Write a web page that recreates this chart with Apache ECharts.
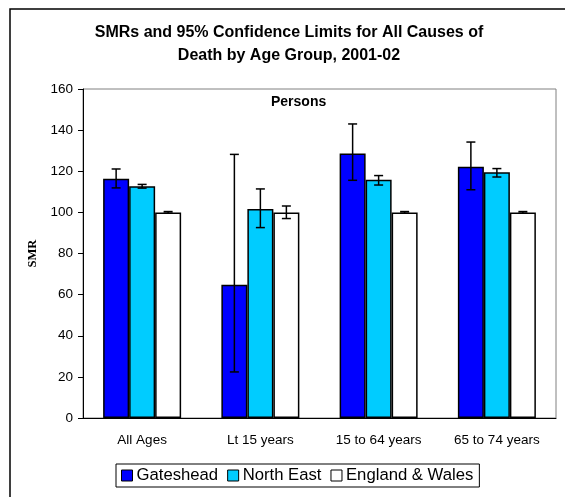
<!DOCTYPE html>
<html>
<head>
<meta charset="utf-8">
<script src="https://cdn.jsdelivr.net/npm/echarts@6/dist/echarts.min.js"></script>
<style>
  html, body { margin: 0; padding: 0; background: #fff; }
  #chart { width: 565px; height: 497px; }
</style>
</head>
<body>
<div id="chart"></div>
<script>
// age groups on the x axis
const categories = ['All Ages', 'Lt 15 years', '15 to 64 years', '65 to 74 years']
const seriesNames = ['Gateshead', 'North East', 'England & Wales']
const colors = ['#0000ff', '#00ccff', '#ffffff']

// SMR values
const gateshead = [116.4, 64.8, 128.6, 122.2]
const northEast = [112.7, 101.7, 115.9, 119.5]
const englandWales = [100, 100, 100, 100]

// 95% confidence limits [lower, upper]
const gatesheadCI = [[111.9, 121.1], [22.4, 128.2], [115.6, 143.0], [111.0, 134.2]]
const northEastCI = [[111.8, 113.6], [92.6, 111.4], [113.3, 117.9], [117.2, 121.3]]
const englandWalesCI = [[99.6, 100.4], [97.0, 103.1], [99.6, 100.4], [99.6, 100.4]]

const yTicks = [0, 20, 40, 60, 80, 100, 120, 140, 160]

const values = [gateshead, northEast, englandWales]
const limits = [gatesheadCI, northEastCI, englandWalesCI]
const BAR_W = 26

const chart = echarts.init(document.getElementById('chart'))

const barSeries = seriesNames.map((name, i) => ({
  name, type: 'bar', data: values[i],
  barWidth: BAR_W, barGap: '0%',
  itemStyle: { color: colors[i], borderColor: '#000', borderWidth: 1.5 },
  emphasis: { disabled: true },
  animation: false
}))

// error bars drawn over each bar
const errSeries = seriesNames.map((name, i) => ({
  type: 'custom', z: 10, animation: false, silent: true,
  data: limits[i].map((l, c) => [c, l[0], l[1]]),
  renderItem: (params, api) => {
    const c = api.value(0)
    const lo = api.coord([c, api.value(1)])
    const hi = api.coord([c, api.value(2)])
    const x = lo[0] + (i - 1) * BAR_W
    const cap = 4.5
    const st = { stroke: '#000', lineWidth: 1.5 }
    return {
      type: 'group',
      children: [
        { type: 'line', shape: { x1: x, y1: lo[1], x2: x, y2: hi[1] }, style: st },
        { type: 'line', shape: { x1: x - cap, y1: lo[1], x2: x + cap, y2: lo[1] }, style: st },
        { type: 'line', shape: { x1: x - cap, y1: hi[1], x2: x + cap, y2: hi[1] }, style: st }
      ]
    }
  }
}))

chart.setOption({
  backgroundColor: '#fff',
  animation: false,
  title: {
    text: 'SMRs and 95% Confidence Limits for All Causes of\nDeath by Age Group, 2001-02',
    left: 284, top: 16, textAlign: 'center',
    textStyle: { fontFamily: 'Liberation Sans, Arial', fontSize: 16, fontWeight: 'bold', color: '#000', lineHeight: 23 }
  },
  grid: { left: 83, top: 89, width: 473, height: 329, show: true, borderColor: '#808080', borderWidth: 1, backgroundColor: 'transparent' },
  legend: {
    data: seriesNames,
    left: 116, top: 464, width: 364, height: 26,
    padding: [3, 6, 3, 5], itemGap: 9,
    borderColor: '#000', borderWidth: 1,
    itemWidth: 11, itemHeight: 11, icon: 'rect',
    itemStyle: { borderColor: '#000', borderWidth: 1 },
    textStyle: { fontFamily: 'Liberation Sans, Arial', fontSize: 16.7, color: '#000', padding: [0, 0, 0, -1] }
  },
  xAxis: {
    type: 'category', data: categories,
    axisLine: { lineStyle: { color: '#000', width: 1 } },
    axisTick: { show: false },
    axisLabel: { fontFamily: 'Liberation Sans, Arial', fontSize: 13.5, color: '#000', margin: 15 }
  },
  yAxis: {
    type: 'value', min: 0, max: 160, interval: 20,
    name: 'SMR', nameLocation: 'middle', nameGap: 44, nameRotate: 90,
    nameTextStyle: { fontFamily: 'Liberation Serif, Times New Roman', fontSize: 12.5, fontWeight: 'bold', color: '#000' },
    axisLine: { show: true, lineStyle: { color: '#000', width: 1 } },
    axisTick: { show: true, length: 5, inside: false, lineStyle: { color: '#000' } },
    splitLine: { show: false },
    axisLabel: { fontFamily: 'Liberation Sans, Arial', fontSize: 13.5, color: '#000', margin: 10,
      formatter: v => yTicks.includes(v) ? String(v) : '' }
  },
  graphic: [
    { type: 'rect', shape: { x: 10, y: 9, width: 600, height: 520 }, style: { fill: 'none', stroke: '#000', lineWidth: 1.5 }, z: 100 },
    { type: 'text', left: 271, top: 95, style: { text: 'Persons', fontFamily: 'Liberation Sans, Arial', fontSize: 14, fontWeight: 'bold', fill: '#000' } }
  ],
  series: [...barSeries, ...errSeries]
})
</script>
</body>
</html>
